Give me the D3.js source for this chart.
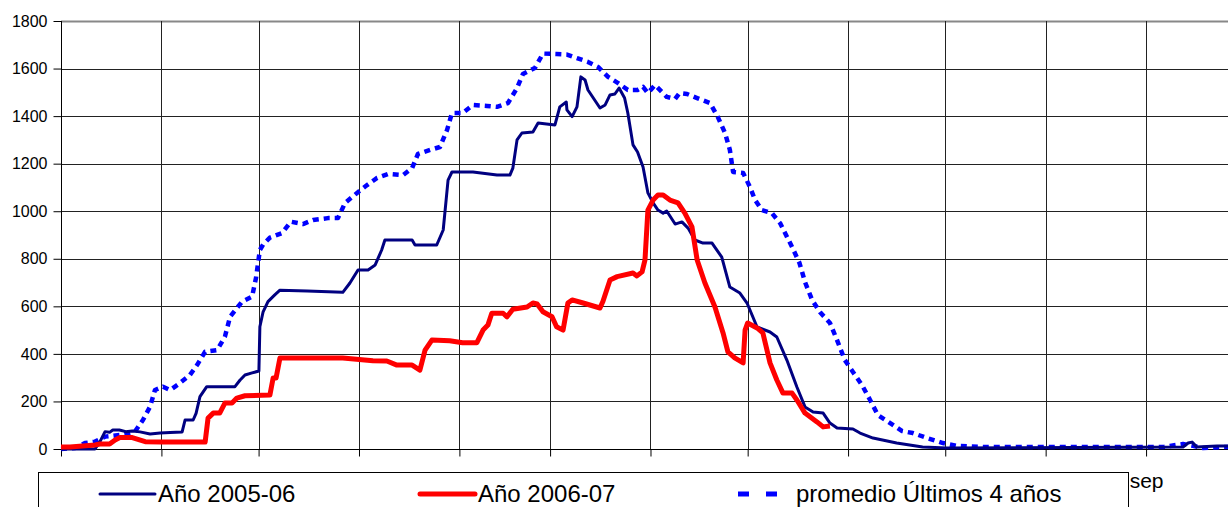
<!DOCTYPE html>
<html>
<head>
<meta charset="utf-8">
<script src="https://cdn.jsdelivr.net/npm/d3@7.9.0/dist/d3.min.js"></script>
<style>
  body { margin: 0; background: #fff; }
  svg { display: block; font-family: Arial, "Liberation Sans", sans-serif; }
</style>
</head>
<body>
<svg width="1228" height="507"></svg>
<script>
// dias desde el 1 de octubre
const dias2005 = [0, 10.5, 12, 13.6, 15, 16, 18, 20, 22, 24.4, 27.5, 30.6, 33.7, 37.4, 38.3, 40.8, 41.7, 42.9, 45, 53.7, 55.3, 56.8, 59, 61.1, 61.4, 62.4, 63.9, 66, 67.6, 76, 87, 89.2, 91.7, 94.8, 97, 99, 100, 108.4, 109.3, 116, 118, 118.9, 119.5, 120.7, 127.2, 134.6, 138.6, 139.5, 140.8, 142.3, 145.7, 147.3, 152.5, 154, 156, 156.2, 157.8, 159.3, 160.5, 161.8, 162.7, 166.4, 168, 169.5, 171, 172.3, 174, 175, 176.6, 178, 179.7, 181.2, 182.8, 184.3, 185.9, 187, 189.6, 191.7, 193.6, 195.7, 198.2, 201, 204, 206.5, 209.6, 211.8, 214.9, 218.9, 221, 224.1, 227.2, 229.7, 232.2, 235.3, 237.4, 239.6, 244.5, 246.7, 250.7, 258, 266, 273.5, 346.4, 348, 349.2, 350.7, 356.9, 364];
const valores2005 = [0, 0, 30, 73, 70, 80, 80, 73, 76, 72, 63, 67, 69, 72, 122, 122, 150, 220, 262, 262, 290, 311, 320, 328, 514, 577, 620, 648, 668, 665, 659, 698, 753, 753, 774, 837, 879, 879, 858, 858, 921, 1047, 1131, 1165, 1165, 1152, 1152, 1181, 1300, 1329, 1333, 1371, 1363, 1439, 1459, 1426, 1398, 1439, 1565, 1552, 1510, 1434, 1447, 1489, 1493, 1518, 1476, 1413, 1279, 1249, 1186, 1077, 1035, 1005, 992, 1001, 946, 955, 929, 879, 866, 866, 807, 681, 656, 614, 513, 492, 471, 374, 261, 177, 156, 151, 109, 88, 84, 67, 46, 25, 8, 4, 8, 25, 29, 8, 13, 13];

const dias2006 = [0, 2.8, 10.5, 12, 15, 16.7, 18.2, 22, 26, 30.6, 44.5, 45.4, 47, 49, 50.6, 52.8, 54.3, 56.8, 64.5, 65.5, 66.4, 67.6, 70.7, 87, 96.3, 100.6, 103.7, 108.4, 110.8, 112.4, 114.5, 120, 124, 128.4, 130.3, 131.8, 133, 136.5, 137.7, 139.5, 143.9, 145.7, 147, 148.8, 151.6, 153, 155, 156.5, 157.8, 161.2, 166.4, 167.3, 169.5, 171.7, 176.6, 177.8, 179.4, 180.3, 181.2, 182.8, 184.3, 185.9, 188, 190.5, 192.6, 194.8, 196.4, 198.8, 201.9, 204.4, 205.9, 208, 210.6, 211.2, 212, 214.9, 216.7, 218.9, 221, 222.9, 225.7, 227.2, 229.7, 233.4, 235.3, 237.4];
const valores2006 = [8, 8, 17, 21, 21, 38, 48, 48, 31, 29, 29, 130, 151, 151, 193, 193, 214, 224, 227, 299, 299, 383, 383, 383, 371, 370, 353, 353, 332, 416, 458, 455, 447, 447, 500, 521, 571, 571, 556, 588, 597, 614, 610, 577, 556, 514, 500, 614, 627, 614, 593, 620, 711, 725, 740, 728, 745, 795, 1005, 1047, 1068, 1068, 1047, 1035, 992, 934, 795, 698, 597, 488, 408, 383, 362, 500, 530, 509, 488, 362, 290, 235, 235, 206, 151, 114, 93, 97];

const diasPromedio = [0, 4.3, 7.4, 10.5, 13.6, 18.2, 22.8, 25.3, 27.5, 29, 31.5, 33.7, 36.7, 39.8, 42, 44.5, 48.2, 50.6, 52.2, 55.9, 59, 60.2, 61.4, 62.4, 64.5, 68.2, 71, 74.7, 77.8, 82.4, 85.5, 87.7, 91.4, 94.5, 97.6, 101, 105.6, 108.4, 110.2, 114, 117, 119.2, 120.7, 124, 127.2, 131.5, 134.6, 138, 140.8, 142.6, 146.3, 148.8, 153, 156.2, 159.3, 162.7, 165.8, 168.9, 172, 175, 178, 179.7, 181.2, 183.4, 187, 189.6, 191, 193.3, 196.4, 200.4, 202.8, 205, 206.5, 207.5, 210.6, 212.7, 214.3, 216.4, 219.5, 222, 225.7, 228, 229.7, 231.9, 234.3, 237.4, 239.6, 242, 244.5, 247.3, 249.8, 252.2, 256, 259.6, 263, 267.4, 272.3, 276.6, 284.7, 340.2, 342.4, 346.4, 349.5, 352.6, 357.8, 364];
const valoresPromedio = [0, 4, 25, 31, 52, 59, 73, 122, 178, 248, 262, 248, 277, 311, 353, 409, 416, 472, 556, 620, 641, 719, 837, 860, 889, 908, 956, 946, 963, 971, 971, 1035, 1077, 1110, 1140, 1157, 1152, 1181, 1241, 1258, 1270, 1342, 1413, 1413, 1447, 1443, 1439, 1455, 1518, 1577, 1602, 1663, 1661, 1659, 1644, 1628, 1607, 1565, 1539, 1510, 1510, 1523, 1497, 1531, 1481, 1472, 1497, 1493, 1476, 1455, 1396, 1329, 1258, 1165, 1161, 1102, 1047, 1005, 992, 950, 850, 782, 702, 627, 576, 530, 458, 374, 324, 269, 206, 143, 109, 76, 67, 46, 25, 13, 8, 8, 13, 21, 13, 4, 8, 8];

const meses = ["oct", "nov", "dic", "ene", "feb", "mar", "abr", "may", "jun", "jul", "ago", "sep"];
const yTicks = [0, 200, 400, 600, 800, 1000, 1200, 1400, 1600, 1800];
const nombres = ["Año 2005-06", "Año 2006-07", "promedio Últimos 4 años"];

const svg = d3.select("svg");
const mLeft = 61, mTop = 21, mBottom = 449;
const inicio = new Date(Date.UTC(2005, 9, 1));
const fin = new Date(Date.UTC(2006, 9, 1));

const x = d3.scaleUtc().domain([inicio, fin]).range([mLeft, mLeft + 365 * 3.239]);
const y = d3.scaleLinear().domain([0, 1800]).range([mBottom, mTop]);
const fecha = d => new Date(inicio.getTime() + d * 864e5);
const monthTicks = d3.utcMonth.range(inicio, fin);

// rejilla
svg.append("g").selectAll("line").data(yTicks.slice(1)).join("line")
  .attr("x1", mLeft).attr("x2", 1228)
  .attr("y1", d => Math.round(y(d)) + 0.5).attr("y2", d => Math.round(y(d)) + 0.5)
  .attr("stroke", d => d === 1800 ? "#888" : "#222").attr("stroke-width", d => d === 1800 ? 2 : 1);
svg.append("g").selectAll("line").data(monthTicks.slice(1)).join("line")
  .attr("x1", d => Math.round(x(d)) + 0.5).attr("x2", d => Math.round(x(d)) + 0.5)
  .attr("y1", mTop).attr("y2", mBottom)
  .attr("stroke", "#222");

// ejes
const yAxis = svg.append("g").attr("transform", `translate(${mLeft + 0.5},0)`)
  .call(d3.axisLeft(y).tickValues(yTicks).tickFormat(d3.format("d")).tickSize(8).tickPadding(6).tickSizeOuter(0));
yAxis.selectAll("text").attr("font-size", 16).attr("fill", "#000").attr("font-family", "Arial, Liberation Sans, sans-serif");
yAxis.selectAll("line").attr("stroke", "#000");
yAxis.select(".domain").attr("stroke", "#000").attr("d", `M0,${mTop}V${mBottom}`);

// solo "sep" queda visible; el resto va tapado por la leyenda
const xAxis = svg.append("g").attr("transform", `translate(0,${mBottom + 0.5})`)
  .call(d3.axisBottom(x).tickValues(monthTicks).tickSize(7).tickPadding(17)
    .tickFormat((d, i) => i === meses.length - 1 ? meses[i] : "").tickSizeOuter(0));
xAxis.selectAll("text").attr("font-size", 21).attr("fill", "#000").attr("font-family", "Arial, Liberation Sans, sans-serif");
xAxis.selectAll("line").attr("stroke", "#000");
xAxis.select(".domain").attr("stroke", "#000").attr("d", `M${mLeft},0H1228`);

// series
const line = d3.line().x(d => x(fecha(d[0]))).y(d => y(d[1]));
const series = [
  { dias: diasPromedio, valores: valoresPromedio, color: "#0000ff", ancho: 4.5, dash: "6,5" },
  { dias: dias2005, valores: valores2005, color: "#000080", ancho: 3, dash: null },
  { dias: dias2006, valores: valores2006, color: "#ff0000", ancho: 5, dash: null }
];
series.forEach(s => {
  svg.append("path")
    .datum(d3.zip(s.dias, s.valores))
    .attr("d", line)
    .attr("fill", "none")
    .attr("stroke", s.color)
    .attr("stroke-width", s.ancho)
    .attr("stroke-linejoin", "round")
    .attr("stroke-dasharray", s.dash);
});

// leyenda
const leg = svg.append("g");
leg.append("rect").attr("x", 38.5).attr("y", 472.5).attr("width", 1090).attr("height", 45)
  .attr("fill", "#fff").attr("stroke", "#000");
const legItems = [
  { x: 100, color: "#000080", ancho: 3, texto: nombres[0] },
  { x: 420, color: "#ff0000", ancho: 5, texto: nombres[1] },
  { x: 738, color: "#0000ff", ancho: 5, texto: nombres[2], dash: "11,17" }
];
legItems.forEach(it => {
  leg.append("line").attr("x1", it.x).attr("x2", it.x + 55).attr("y1", 494).attr("y2", 494)
    .attr("stroke", it.color).attr("stroke-width", it.ancho).attr("stroke-dasharray", it.dash || null)
    .attr("stroke-linecap", it.dash ? "butt" : "round");
  leg.append("text").attr("x", it.x + 58).attr("y", 502).attr("font-size", 24).text(it.texto);
});
</script>
</body>
</html>
